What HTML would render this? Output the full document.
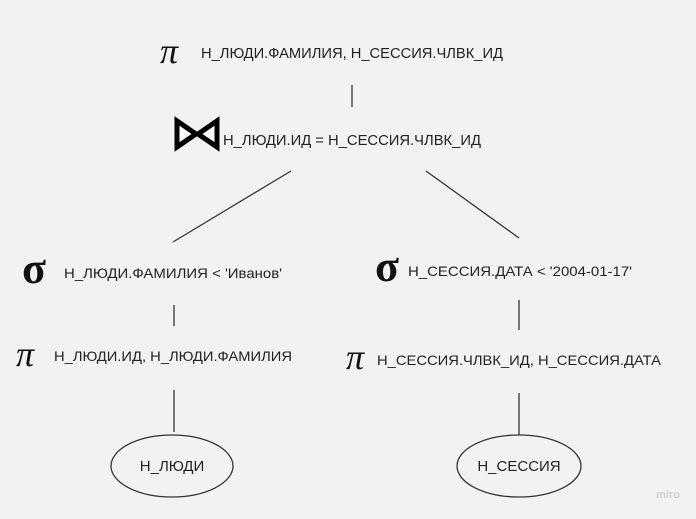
<!DOCTYPE html>
<html><head><meta charset="utf-8"><style>
html,body{margin:0;padding:0;background:#f2f2f2;}
svg{display:block;}
.t{font-family:"Liberation Sans",sans-serif;font-size:15px;fill:#222;}
.n{font-family:"Liberation Sans",sans-serif;font-size:14px;fill:#222;}
.g{font-family:"Liberation Serif",serif;fill:#111;}
</style></head><body>
<svg width="696" height="519" viewBox="0 0 696 519" xmlns="http://www.w3.org/2000/svg">
<rect width="696" height="519" fill="#f2f2f2"/>
<g stroke="#333" stroke-width="1.3" fill="none">
<line x1="352" y1="85" x2="352" y2="107"/>
<line x1="291" y1="171" x2="173" y2="242"/>
<line x1="426" y1="171" x2="519" y2="238"/>
<line x1="174" y1="305" x2="174" y2="326"/>
<line x1="519" y1="300" x2="519" y2="330"/>
<line x1="174" y1="390" x2="174" y2="432"/>
<line x1="519" y1="393" x2="519" y2="435"/>
<ellipse cx="172" cy="466" rx="61" ry="31"/>
<ellipse cx="519" cy="466" rx="62" ry="31"/>
</g>
<text class="g" x="160" y="63" font-size="36" font-style="italic">π</text>
<text class="t" x="201" y="58" textLength="302" lengthAdjust="spacingAndGlyphs">Н_ЛЮДИ.ФАМИЛИЯ, Н_СЕССИЯ.ЧЛВК_ИД</text>
<path d="M177,121 L196,134 L177,147 Z M217,121 L198,134 L217,147 Z" fill="#fff" stroke="#000" stroke-width="5" stroke-linejoin="miter"/>
<text class="t" x="223" y="145" textLength="258" lengthAdjust="spacingAndGlyphs">Н_ЛЮДИ.ИД = Н_СЕССИЯ.ЧЛВК_ИД</text>
<text class="g" x="22" y="283" font-size="44" font-weight="bold">σ</text>
<text class="n" x="64" y="278" textLength="218" lengthAdjust="spacingAndGlyphs">Н_ЛЮДИ.ФАМИЛИЯ &lt; 'Иванов'</text>
<text class="g" x="375" y="281" font-size="44" font-weight="bold">σ</text>
<text class="n" x="408" y="276" textLength="224" lengthAdjust="spacingAndGlyphs">Н_СЕССИЯ.ДАТА &lt; '2004-01-17'</text>
<text class="g" x="16" y="366" font-size="36" font-style="italic">π</text>
<text class="n" x="54" y="361" textLength="238" lengthAdjust="spacingAndGlyphs">Н_ЛЮДИ.ИД, Н_ЛЮДИ.ФАМИЛИЯ</text>
<text class="g" x="346" y="369" font-size="36" font-style="italic">π</text>
<text class="n" x="377" y="365" textLength="284" lengthAdjust="spacingAndGlyphs">Н_СЕССИЯ.ЧЛВК_ИД, Н_СЕССИЯ.ДАТА</text>
<text class="t" x="172" y="471" text-anchor="middle">Н_ЛЮДИ</text>
<text class="t" x="519" y="471" text-anchor="middle">Н_СЕССИЯ</text>
<text x="656" y="498" font-family="Liberation Sans,sans-serif" font-size="11" font-weight="bold" fill="#d0d0d0">miro</text>
</svg>
</body></html>
